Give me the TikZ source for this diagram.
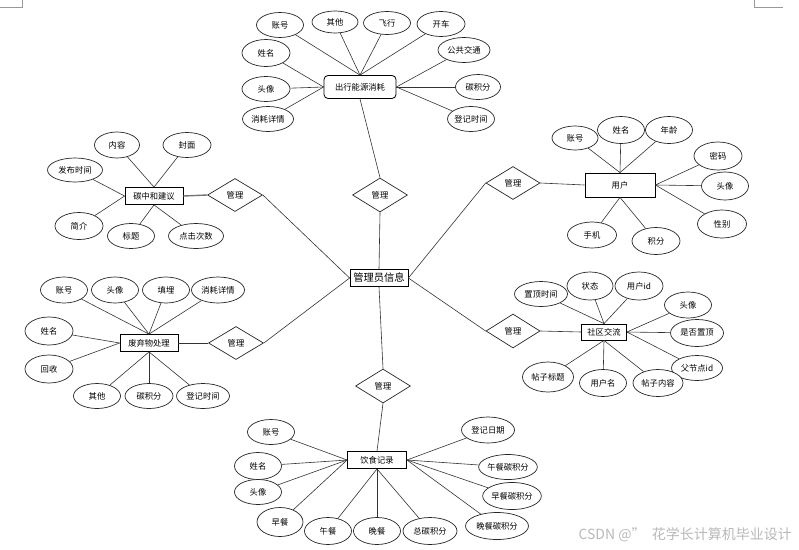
\documentclass[tikz,border=0pt]{standalone}
\usepackage{fontspec}
\setmainfont{Noto Sans CJK SC}
\usetikzlibrary{shapes.geometric}
\tikzset{
  sz/.style 2 args={minimum width=#1pt, minimum height=#2pt},
  attr/.style={ellipse, draw=black!85, line width=0.7pt, inner sep=0pt, fill=white, font=\fontsize{8.3}{10}\selectfont},
  ent/.style={rectangle, draw=black, line width=0.8pt, inner sep=0pt, fill=white, font=\fontsize{8.3}{10}\selectfont},
  rel/.style={diamond, draw=black!85, line width=0.7pt, inner sep=0pt, fill=white, minimum width=55pt, minimum height=34pt, font=\fontsize{8.3}{10}\selectfont},
  conn/.style={draw=black!80, line width=0.6pt},
  thickconn/.style={draw=black!55, line width=1.4pt},
  cropmark/.style={draw=black!40, line width=0.6pt}
}
\begin{document}
\begin{tikzpicture}[x=1pt,y=-1pt]
\useasboundingbox (0,0) rectangle (799,549);
% crop marks
\draw[cropmark] (22,0) -- (22,7) -- (0,7);
\draw[cropmark] (754,0) -- (754,7) -- (783,7);

% center
\node[ent, sz={58}{17}, font=\fontsize{10.3}{12}\selectfont] (C) at (379,278) {管理员信息};

% ----- top entity -----
\node[ent, sz={72}{23}, rounded corners=4pt] (E1) at (360,87) {出行能源消耗};
\node[attr, sz={47}{25}] (a1) at (280,25) {账号};
\node[attr, sz={46}{22}] (a2) at (335,22) {其他};
\node[attr, sz={47}{23}] (a3) at (387,23) {飞行};
\node[attr, sz={48}{25}] (a4) at (441,24) {开车};
\node[attr, sz={52}{25}] (a5) at (464,50) {公共交通};
\node[attr, sz={48}{27}] (a6) at (266,53) {姓名};
\node[attr, sz={48}{25}] (a7) at (266,89) {头像};
\node[attr, sz={51}{25}] (a8) at (268,119) {消耗详情};
\node[attr, sz={45}{25}] (a9) at (478,87) {碳积分};
\node[attr, sz={46}{25}] (a10) at (471,119) {登记时间};
\node[rel] (R1) at (380,195) {管理};

% ----- left upper entity -----
\node[ent, sz={58}{17}] (E2) at (154,196) {碳中和建议};
\node[rel, sz={55}{33}] (R2) at (235,195) {管理};
\node[attr, sz={45}{26}] (b1) at (117,145) {内容};
\node[attr, sz={48}{25}] (b2) at (187,145) {封面};
\node[attr, sz={55}{24}] (b3) at (75,170) {发布时间};
\node[attr, sz={48}{27}] (b4) at (79,226) {简介};
\node[attr, sz={47}{25}] (b5) at (131,236) {标题};
\node[attr, sz={55}{25}] (b6) at (196,236) {点击次数};

% ----- user entity -----
\node[ent, sz={70}{24}] (E3) at (620,185) {用户};
\node[rel, sz={54}{33}] (R3) at (513,183) {管理};
\node[attr, sz={46}{24}] (c1) at (575,138) {账号};
\node[attr, sz={47}{27}] (c2) at (621,130) {姓名};
\node[attr, sz={47}{27}] (c3) at (669,130) {年龄};
\node[attr, sz={48}{28}] (c4) at (718,156) {密码};
\node[attr, sz={47}{28}] (c5) at (725,186) {头像};
\node[attr, sz={49}{28}] (c6) at (722,224) {性别};
\node[attr, sz={49}{26}] (c7) at (592,235) {手机};
\node[attr, sz={48}{27}] (c8) at (656,241) {积分};

% ----- waste entity -----
\node[ent, sz={58}{17}] (E4) at (149,343) {废弃物处理};
\node[rel, sz={55}{33}] (R4) at (236,343) {管理};
\node[attr, sz={47}{26}] (d1) at (64,290) {账号};
\node[attr, sz={47}{26}] (d2) at (115,290) {头像};
\node[attr, sz={47}{26}] (d3) at (166,290) {填埋};
\node[attr, sz={53}{26}] (d4) at (218,290) {消耗详情};
\node[attr, sz={48}{28}] (d5) at (49,331) {姓名};
\node[attr, sz={48}{28}] (d6) at (49,369) {回收};
\node[attr, sz={47}{25}] (d7) at (97,396) {其他};
\node[attr, sz={48}{25}] (d8) at (149,396) {碳积分};
\node[attr, sz={53}{25}] (d9) at (203,396) {登记时间};

% ----- community entity -----
\node[ent, sz={45}{16}] (E5) at (604,332) {社区交流};
\node[rel, sz={54}{34}] (R5) at (513,331) {管理};
\node[attr, sz={53}{25}] (e1) at (541,294) {置顶时间};
\node[attr, sz={46}{28}] (e2) at (590,286) {状态};
\node[attr, sz={48}{28}] (e3) at (639,286) {用户id};
\node[attr, sz={47}{26}] (e4) at (688,305) {头像};
\node[attr, sz={53}{27}] (e5) at (697,333) {是否置顶};
\node[attr, sz={51}{25}] (e6) at (697,368) {父节点id};
\node[attr, sz={51}{30}] (e7) at (548,377) {帖子标题};
\node[attr, sz={47}{27}] (e8) at (603,383) {用户名};
\node[attr, sz={50}{27}] (e9) at (658,383) {帖子内容};

% ----- diet entity -----
\node[rel, sz={55}{34}] (R6) at (383,386) {管理};
\node[ent, sz={59}{17}] (E6) at (377,460) {饮食记录};
\node[attr, sz={47}{25}] (f1) at (271,432) {账号};
\node[attr, sz={47}{27}] (f2) at (258,466) {姓名};
\node[attr, sz={47}{25}] (f3) at (258,492) {头像};
\node[attr, sz={46}{29}] (f4) at (280,522) {早餐};
\node[attr, sz={47}{27}] (f5) at (328,531) {午餐};
\node[attr, sz={47}{27}] (f6) at (377,531) {晚餐};
\node[attr, sz={54}{27}] (f7) at (430,531) {总碳积分};
\node[attr, sz={53}{26}] (f8) at (488,430) {登记日期};
\node[attr, sz={55}{25}] (f9) at (508,467) {午餐碳积分};
\node[attr, sz={55}{27}] (f10) at (512,496) {早餐碳积分};
\node[attr, sz={63}{27}] (f11) at (497,526) {晚餐碳积分};

% ===== connectors =====
\foreach \n in {a1,a2,a3,a4} \draw[conn] (\n) -- (E1.north);
\foreach \n in {a5,a9,a10} \draw[conn] (\n) -- (E1.east);
\foreach \n in {a6,a7,a8} \draw[conn] (\n) -- (E1.west);
\draw[conn] (E1.south) -- (R1.north);
\draw[conn] (R1.south) -- (C.north);

\foreach \n in {b1,b2} \draw[conn] (\n) -- (E2.north);
\foreach \n in {b3,b4} \draw[conn] (\n) -- (E2.west);
\foreach \n in {b5,b6} \draw[conn] (\n) -- (E2.south);
\draw[thickconn] (E2.east) -- (R2.west);
\draw[conn] (R2.east) -- (C.west);

\foreach \n in {c1,c2,c3} \draw[conn] (\n) -- (E3.north);
\foreach \n in {c4,c5,c6} \draw[conn] (\n) -- (E3.east);
\foreach \n in {c7,c8} \draw[conn] (\n) -- (E3.south);
\draw[conn] (R3.east) -- (E3.west);
\draw[conn] (C.east) -- (R3.west);

\foreach \n in {d1,d2,d3,d4} \draw[conn] (\n) -- (E4.north);
\foreach \n in {d5,d6} \draw[conn] (\n) -- (E4.west);
\foreach \n in {d7,d8,d9} \draw[conn] (\n) -- (E4.south);
\draw[conn] (E4.east) -- (R4.west);
\draw[conn] (R4.east) -- (C.west);

\foreach \n in {e1,e2,e3} \draw[conn] (\n) -- (E5.north);
\foreach \n in {e4,e5,e6} \draw[conn] (\n) -- (E5.east);
\foreach \n in {e7,e8,e9} \draw[conn] (\n) -- (E5.south);
\draw[conn] (R5.east) -- (E5.west);
\draw[conn] (C.east) -- (R5.west);

\draw[conn] (C.south) -- (R6.north);
\draw[conn] (R6.south) -- (E6.north);
\foreach \n in {f1,f2,f3,f4} \draw[conn] (\n) -- (E6.west);
\foreach \n in {f5,f6,f7} \draw[conn] (\n) -- (E6.south);
\foreach \n in {f8,f9,f10,f11} \draw[conn] (\n) -- (E6.east);

% watermark
\node[anchor=east, text=black!28, inner sep=0pt, font=\fontsize{14}{16}\selectfont] (wm) at (792,535) {CSDN @” \ 花学长计算机毕业设计};
\end{tikzpicture}
\end{document}
